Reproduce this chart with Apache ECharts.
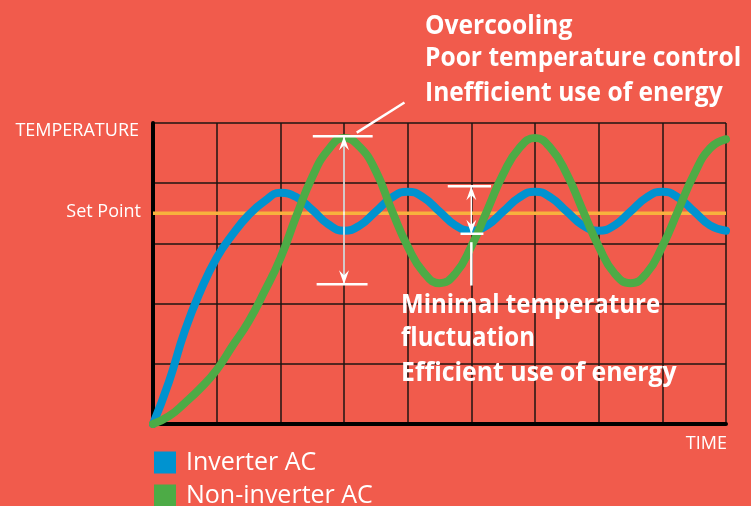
<!DOCTYPE html>
<html>
<head>
<meta charset="utf-8">
<script src="https://cdn.jsdelivr.net/npm/echarts@6/dist/echarts.min.js"></script>
<style>
  html, body { margin: 0; padding: 0; background: #F15B4C; }
  #chart { width: 751px; height: 506px; }
</style>
</head>
<body>
<div id="chart"></div>
<script>
// time steps (grid columns 0..9) and temperatures (grid rows 0..5)
const timeSteps = [0, 0.25, 0.5, 0.75, 1, 1.25, 1.5, 1.75, 2, 2.25, 2.5, 2.75, 3, 3.25, 3.5, 3.75,
  4, 4.25, 4.5, 4.75, 5, 5.25, 5.5, 5.75, 6, 6.25, 6.5, 6.75, 7, 7.25, 7.5, 7.75, 8, 8.25, 8.5, 8.75, 9]
const inverterTemp = [0, 0.7, 1.55, 2.22, 2.76, 3.15, 3.47, 3.7, 3.84, 3.77, 3.56, 3.32, 3.21, 3.3, 3.53, 3.76,
  3.86, 3.76, 3.53, 3.3, 3.21, 3.3, 3.53, 3.76, 3.86, 3.76, 3.53, 3.3, 3.21, 3.3, 3.53, 3.76, 3.86, 3.76, 3.53, 3.3, 3.21]
const nonInverterTemp = [0, 0.13, 0.35, 0.6, 0.9, 1.3, 1.7, 2.2, 2.75, 3.45, 4.1, 4.55, 4.75, 4.6, 4.2, 3.55,
  2.95, 2.52, 2.34, 2.5, 2.95, 3.55, 4.15, 4.58, 4.75, 4.58, 4.15, 3.55, 2.95, 2.5, 2.34, 2.5, 2.95, 3.55, 4.15, 4.58, 4.73]
const setPointTemp = 3.5
const seriesNames = ['Inverter AC', 'Non-inverter AC']

const C = {
  bg: '#F15B4C', blue: '#0093D0', green: '#4DAB46', orange: '#F8B13D',
  grid: '#1E1412', white: '#FFFFFF',
}
const FONT = "'Open Sans', 'Noto Sans', sans-serif"

const pairs = (xs, ys) => xs.map((x, i) => [x, ys[i]])

const chart = echarts.init(document.getElementById('chart'), null, { renderer: 'canvas' })

const axisCommon = {
  type: 'value', interval: 1,
  axisLabel: { show: false }, axisTick: { show: false },
  axisLine: { show: true, lineStyle: { color: '#000', width: 4 } },
  splitLine: { show: true, lineStyle: { color: C.grid, width: 1.5 } },
}

// one legend box per row, stacked
const legendRow = (name, top) => ({
  data: [name], left: 154, top, padding: 0,
  icon: 'rect', itemWidth: 22, itemHeight: 22,
  textStyle: { color: C.white, fontSize: 25, fontFamily: FONT, padding: [0, 0, 0, 5] },
})

chart.setOption({
  backgroundColor: C.bg,
  animation: false,
  grid: { left: 153, top: 123, right: 25, bottom: 82 },
  xAxis: { ...axisCommon, min: 0, max: 9 },
  yAxis: { ...axisCommon, min: 0, max: 5 },
  legend: [legendRow(seriesNames[0], 450), legendRow(seriesNames[1], 483)],
  series: [
    {
      name: 'Set Point', type: 'line', data: [[0, setPointTemp], [9, setPointTemp]],
      showSymbol: false, lineStyle: { color: C.orange, width: 3.5 }, z: 1,
    },
    {
      name: seriesNames[0], type: 'line', data: pairs(timeSteps, inverterTemp), smooth: true,
      showSymbol: false, color: C.blue, lineStyle: { width: 8, cap: 'round', join: 'round' }, z: 2,
    },
    {
      name: seriesNames[1], type: 'line', data: pairs(timeSteps, nonInverterTemp), smooth: true,
      showSymbol: false, color: C.green, lineStyle: { width: 8, cap: 'round', join: 'round' }, z: 3,
    },
  ],
})

// annotation geometry, in data units
const overcool = { x: 3, top: 4.78, bottom: 2.32, topCap: [2.51, 3.45], bottomCap: [2.57, 3.37], pointer: [[3.2, 4.84], [3.95, 5.34]] }
const minimal = { x: 5, top: 3.95, bottom: 3.16, topCap: [4.63, 5.31], bottomCap: [4.83, 5.19], pointer: [[5, 3.02], [5, 2.3]] }

const px = p => chart.convertToPixel({ gridIndex: 0 }, p)

function seg(a, b, w) {
  const p = px(a), q = px(b)
  return { type: 'line', z: 100, shape: { x1: p[0], y1: p[1], x2: q[0], y2: q[1] }, style: { stroke: C.white, lineWidth: w } }
}
function head(tip, dir) {
  // dir = 1 pointing up, -1 pointing down
  const [x, y] = px(tip)
  const h = 14 * dir, n = 9 * dir
  return { type: 'polygon', z: 101, shape: { points: [[x, y], [x - 5, y + h], [x, y + n], [x + 5, y + h]] }, style: { fill: C.white } }
}
function arrow(a) {
  return [
    seg([a.topCap[0], a.top], [a.topCap[1], a.top], 2.5),
    seg([a.bottomCap[0], a.bottom], [a.bottomCap[1], a.bottom], 2.5),
    seg([a.x, a.top], [a.x, a.bottom], 1.5),
    head([a.x, a.top], 1), head([a.x, a.bottom], -1),
    seg(a.pointer[0], a.pointer[1], 2.5),
  ]
}
function txt(text, x, baseline, size, opts = {}) {
  return {
    type: 'text', z: 102, x, y: baseline - 0.3 * size, scaleX: opts.sx || 1,
    style: {
      text, fill: C.white, fontSize: size, fontWeight: opts.bold ? 'bold' : 'normal', fontFamily: FONT,
      align: opts.align || 'left', verticalAlign: 'middle',
    },
  }
}

const setY = px([0, setPointTemp])[1]
chart.setOption({
  graphic: [
    ...arrow(overcool),
    ...arrow(minimal),
    txt('Overcooling', 425, 34, 27, { bold: true, sx: 0.91 }),
    txt('Poor temperature control', 425, 66, 27, { bold: true, sx: 0.91 }),
    txt('Inefficient use of energy', 425, 101, 27, { bold: true, sx: 0.91 }),
    txt('Minimal temperature', 401, 313, 27, { bold: true, sx: 0.89 }),
    txt('fluctuation', 401, 346, 27, { bold: true, sx: 0.89 }),
    txt('Efficient use of energy', 401, 381, 27, { bold: true, sx: 0.92 }),
    txt('TEMPERATURE', 139, 136, 18, { align: 'right' }),
    txt('Set Point', 141, setY + 4, 18, { align: 'right' }),
    txt('TIME', 727, 449, 18, { align: 'right' }),
  ],
})
</script>
</body>
</html>
